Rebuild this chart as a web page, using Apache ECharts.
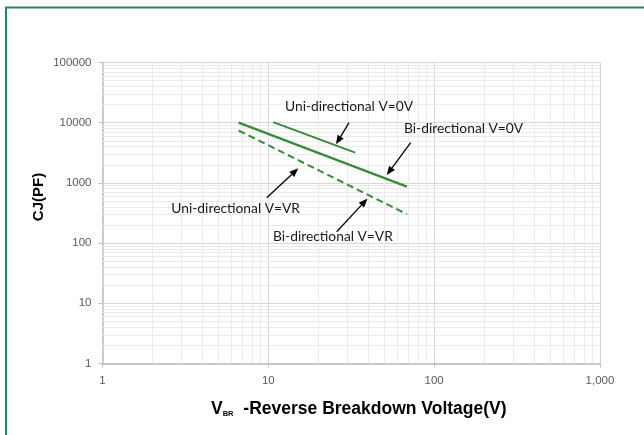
<!DOCTYPE html>
<html><head><meta charset="utf-8">
<script src="https://cdn.jsdelivr.net/npm/echarts/dist/echarts.min.js"></script>
<style>html,body{margin:0;padding:0;background:#fff}#c{width:644px;height:435px}</style>
</head><body><div id="c"></div>
<script>
// ---- data ----
const uniV0_x = [10.7, 33.4];
const uniV0_y = [10200, 3190];
const biV0_x = [6.62, 68.5];
const biV0_y = [10000, 868];
const vr_x = [6.62, 68.5];
const vr_y = [7420, 302];
const xTicks = [1, 10, 100, 1000];
const xTickLabels = ['1', '10', '100', '1,000'];
const yTicks = [1, 10, 100, 1000, 10000, 100000];
const yTickLabels = ['1', '10', '100', '1000', '10000', '100000'];
const annotations = ['Uni-directional V=0V', 'Bi-directional V=0V', 'Uni-directional V=VR', 'Bi-directional V=VR'];
const yTitle = 'CJ(PF)';
const xTitleMain = 'V';
const xTitleSub = 'BR';
const xTitleRest = ' -Reverse Breakdown Voltage(V)';

// minor grid positions (2..9 of each decade)
function minors(lo, hi) {
  const out = [];
  for (let d = lo; d < hi; d *= 10) for (let k = 2; k <= 9; k++) out.push(k * d);
  return out;
}
const xMinor = minors(1, 1000);
const yMinor = minors(1, 100000);

function pairs(xs, ys) { return xs.map((x, i) => [x, ys[i]]); }
function lookup(v, ticks, labels) {
  for (let i = 0; i < ticks.length; i++) if (Math.abs(Math.log10(v) - Math.log10(ticks[i])) < 1e-6) return labels[i];
  return '';
}

const GREEN = '#3a8a3a';
const chart = echarts.init(document.getElementById('c'), null, { renderer: 'canvas' });

function arrow(x1, y1, x2, y2) {
  const ang = Math.atan2(y2 - y1, x2 - x1);
  const L = 9, W = 3.6;
  const bx = x2 - L * Math.cos(ang), by = y2 - L * Math.sin(ang);
  const px = -Math.sin(ang) * W, py = Math.cos(ang) * W;
  return [
    { type: 'line', z: 50, shape: { x1: x1, y1: y1, x2: bx, y2: by }, style: { stroke: '#000', lineWidth: 1.3 }, silent: true },
    { type: 'polygon', z: 50, shape: { points: [[x2, y2], [bx + px, by + py], [bx - px, by - py]] }, style: { fill: '#000' }, silent: true }
  ];
}

const annFont = '13.8px Lato, "Liberation Sans", sans-serif';
function ann(txt, x, y, align) {
  return { type: 'text', z: 50, x: x, y: y, silent: true, style: { text: txt, font: annFont, fill: '#1a1a1a', verticalAlign: 'middle', align: align || 'left' } };
}
const graphics = [
  { type: 'rect', shape: { x: 6, y: 7.5, width: 700, height: 500 }, style: { fill: 'none', stroke: '#1f8a5e', lineWidth: 2 }, silent: true, z: 100 },
  ann(annotations[0], 285, 107),
  ann(annotations[1], 404, 129),
  ann(annotations[2], 300, 209, 'right'),
  ann(annotations[3], 273, 237),
  ...arrow(349, 122.7, 336, 144.3),
  ...arrow(410.7, 142.7, 386.7, 175),
  ...arrow(266.7, 197.7, 298.3, 168.3),
  ...arrow(336.7, 231.7, 367.5, 198.5),
  { type: 'text', z: 50, x: 38.5, y: 197, rotation: Math.PI / 2, style: { text: yTitle, font: 'bold 15px "Liberation Sans", Arial, sans-serif', fill: '#000', align: 'center', verticalAlign: 'middle' } },
  { type: 'text', z: 50, x: 211, y: 408, style: {
      text: '{m|' + xTitleMain + '}{s|' + xTitleSub + '}{m|' + xTitleRest + '}',
      verticalAlign: 'middle',
      rich: {
        m: { font: 'bold 17.5px "Liberation Sans", Arial, sans-serif', fill: '#000', verticalAlign: 'bottom', lineHeight: 20 },
        s: { font: 'bold 7.5px "Liberation Sans", Arial, sans-serif', fill: '#000', verticalAlign: 'bottom', lineHeight: 12, padding: [0, 5, 0, 0] }
      } } }
];

chart.setOption({
  animation: false,
  backgroundColor: '#fff',
  grid: { left: 102.5, right: 44, top: 62.5, bottom: 71.5, containLabel: false },
  xAxis: {
    type: 'log', logBase: 10, min: 1, max: 1000,
    axisLine: { show: true, lineStyle: { color: '#bfbfbf', width: 1.5 } },
    axisTick: { show: true, length: 4, lineStyle: { color: '#bfbfbf' } },
    axisLabel: { margin: 11, color: '#595959', fontSize: 11.5, fontFamily: '"Liberation Sans", Arial, sans-serif', formatter: v => lookup(v, xTicks, xTickLabels) },
    splitLine: { show: true, lineStyle: { color: '#d6d6d6', width: 1 } }
  },
  yAxis: {
    type: 'log', logBase: 10, min: 1, max: 100000,
    axisLine: { show: true, lineStyle: { color: '#bfbfbf', width: 1.5 } },
    axisTick: { show: true, length: 4, lineStyle: { color: '#bfbfbf' } },
    axisLabel: { margin: 11, color: '#595959', fontSize: 11.5, fontFamily: '"Liberation Sans", Arial, sans-serif', formatter: v => lookup(v, yTicks, yTickLabels) },
    splitLine: { show: true, lineStyle: { color: '#d6d6d6', width: 1 } }
  },
  series: [
    {
      type: 'line', data: [], silent: true, z: 1,
      markLine: {
        silent: true, symbol: ['none', 'none'], label: { show: false }, animation: false, z: 1,
        lineStyle: { color: '#ebebeb', width: 1, type: 'solid' },
        emphasis: { disabled: true },
        data: xMinor.map(v => ({ xAxis: v })).concat(yMinor.map(v => ({ yAxis: v })))
      }
    },
    { name: annotations[0], type: 'line', data: pairs(uniV0_x, uniV0_y), showSymbol: false, lineStyle: { color: GREEN, width: 2 }, z: 5 },
    { name: annotations[1], type: 'line', data: pairs(biV0_x, biV0_y), showSymbol: false, lineStyle: { color: GREEN, width: 2.3 }, z: 5 },
    { name: annotations[2], type: 'line', data: pairs(vr_x, vr_y), showSymbol: false, lineStyle: { color: GREEN, width: 2, type: [7, 4] }, z: 5 }
  ],
  graphic: graphics
});
</script></body></html>
